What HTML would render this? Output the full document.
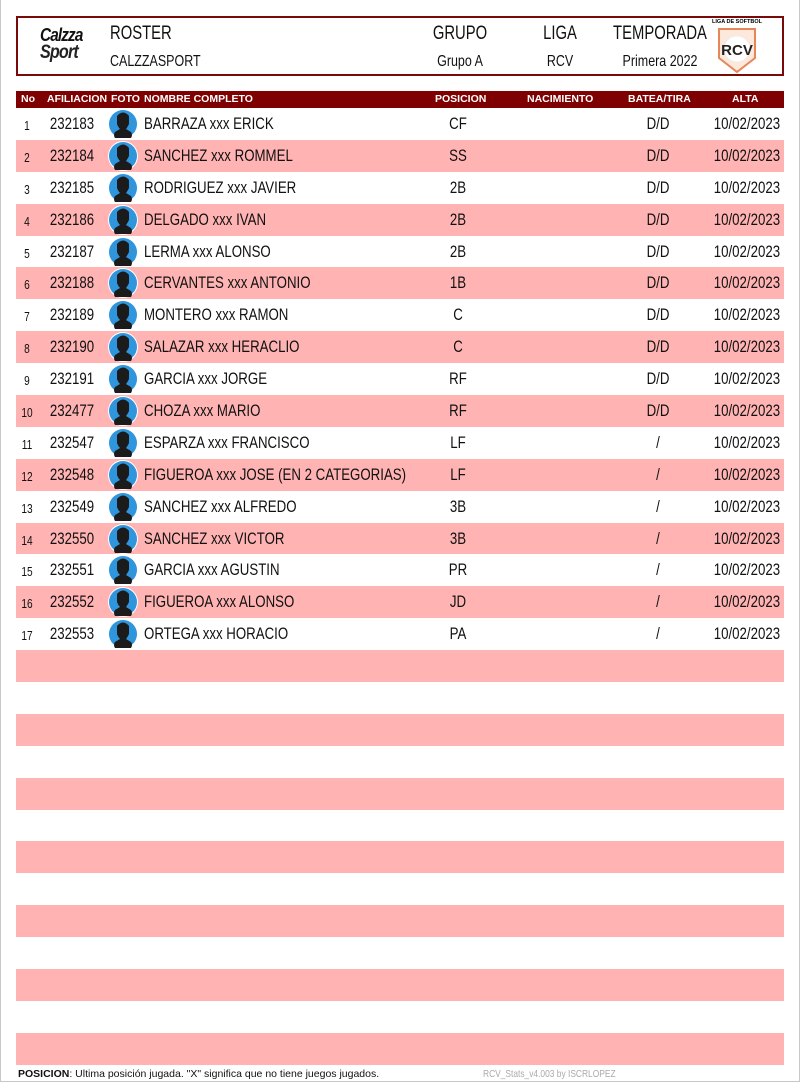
<!DOCTYPE html>
<html><head><meta charset="utf-8"><style>
*{margin:0;padding:0;box-sizing:border-box}
body{width:800px;height:1082px;background:#fff;position:relative;overflow:hidden;font-family:"Liberation Sans",sans-serif;color:#111}
.frame{position:absolute;left:0;top:0;width:800px;height:1082px;border:1px solid #c8c8c8;border-top:none}
.hdr{position:absolute;left:16px;top:16px;width:768px;height:60px;border:2px solid #7a0a0a}
.t{position:absolute;white-space:nowrap;font-size:17px;line-height:20px}
.c{transform:translateX(-50%) scaleX(.78)}
.l{transform-origin:left center;transform:scaleX(.78)}
.r{transform-origin:right center;transform:scaleX(.78)}
.th{position:absolute;left:16px;top:91px;width:768px;height:17px;background:#7f0000}
.th span{position:absolute;top:2px;color:#fff;font-size:10.5px;font-weight:bold;white-space:nowrap;line-height:13px}
.rows{position:absolute;left:16px;top:108px;width:768px}
.row{position:relative;height:31.9px;width:768px}
.row:nth-child(even){background:#ffb3b3}
.row .t{top:6px}
.row .n{font-size:13px;top:8px}
.ic{position:absolute;left:92px;top:1px;width:30px;height:30px}
</style></head><body>
<div class="frame"></div>
<div class="hdr">
 <div style="position:absolute;left:22px;top:9px;font-weight:900;font-style:italic;font-size:18px;line-height:17px;letter-spacing:-1px;color:#111;transform:scaleX(.85);transform-origin:left">Calzza<br><span style="color:#222;font-size:19px">Sport</span></div>
 <div class="t l" style="left:92px;top:6px;font-size:19px">ROSTER</div>
 <div class="t l" style="left:92px;top:34px;font-size:16px">CALZZASPORT</div>
 <div class="t c" style="left:442px;top:6px;font-size:19px">GRUPO</div>
 <div class="t c" style="left:442px;top:34px;font-size:16px">Grupo A</div>
 <div class="t c" style="left:542px;top:6px;font-size:19px">LIGA</div>
 <div class="t c" style="left:542px;top:34px;font-size:16px">RCV</div>
 <div class="t c" style="left:642px;top:6px;font-size:19px">TEMPORADA</div>
 <div class="t c" style="left:642px;top:34px;font-size:16px">Primera 2022</div>
 <svg style="position:absolute;left:694px;top:-2px" width="50" height="58" viewBox="0 0 50 58">
  <text x="25" y="7" font-size="5.5" font-family="Liberation Sans" font-weight="bold" text-anchor="middle">LIGA DE SOFTBOL</text>
  <path d="M7 13 L43 13 L43 42 L25 56 L7 42 Z" fill="#fde8dc" stroke="#e8865a" stroke-width="2"/>
  <circle cx="25" cy="33" r="13" fill="#fff" stroke="#eee"/>
  <text x="25" y="39" font-size="15" font-family="Liberation Sans" font-weight="bold" text-anchor="middle" fill="#222">RCV</text>
 </svg>
</div>
<div class="th">
 <span style="left:5px">No</span><span style="left:31px">AFILIACION</span><span style="left:95px">FOTO</span><span style="left:128px">NOMBRE COMPLETO</span>
 <span style="left:419px">POSICION</span><span style="left:511px">NACIMIENTO</span><span style="left:612px">BATEA/TIRA</span><span style="left:716px">ALTA</span>
</div>
<svg width="0" height="0" style="position:absolute"><defs><symbol id="p" viewBox="0 0 30 30"><circle cx="15" cy="15" r="15" fill="#fff"/><circle cx="15" cy="15" r="14" fill="#2f95dc"/><path d="M9 7 Q15 0 21 7 L21 15 Q19 19 18 20 L23 23 Q25 26 23 29 L7 29 Q5 26 7 23 L12 20 Q10 18 9 15 Z" fill="#1b1b1b"/></symbol></defs></svg>
<div class="rows">
<div class="row"><span class="t c n" style="left:11px">1</span><span class="t c" style="left:56px">232183</span><svg class="ic"><use href="#p"/></svg><span class="t l" style="left:128px">BARRAZA xxx ERICK</span><span class="t c" style="left:442px">CF</span><span class="t c" style="left:642px">D/D</span><span class="t r" style="right:4px">10/02/2023</span></div>
<div class="row"><span class="t c n" style="left:11px">2</span><span class="t c" style="left:56px">232184</span><svg class="ic"><use href="#p"/></svg><span class="t l" style="left:128px">SANCHEZ xxx ROMMEL</span><span class="t c" style="left:442px">SS</span><span class="t c" style="left:642px">D/D</span><span class="t r" style="right:4px">10/02/2023</span></div>
<div class="row"><span class="t c n" style="left:11px">3</span><span class="t c" style="left:56px">232185</span><svg class="ic"><use href="#p"/></svg><span class="t l" style="left:128px">RODRIGUEZ xxx JAVIER</span><span class="t c" style="left:442px">2B</span><span class="t c" style="left:642px">D/D</span><span class="t r" style="right:4px">10/02/2023</span></div>
<div class="row"><span class="t c n" style="left:11px">4</span><span class="t c" style="left:56px">232186</span><svg class="ic"><use href="#p"/></svg><span class="t l" style="left:128px">DELGADO xxx IVAN</span><span class="t c" style="left:442px">2B</span><span class="t c" style="left:642px">D/D</span><span class="t r" style="right:4px">10/02/2023</span></div>
<div class="row"><span class="t c n" style="left:11px">5</span><span class="t c" style="left:56px">232187</span><svg class="ic"><use href="#p"/></svg><span class="t l" style="left:128px">LERMA xxx ALONSO</span><span class="t c" style="left:442px">2B</span><span class="t c" style="left:642px">D/D</span><span class="t r" style="right:4px">10/02/2023</span></div>
<div class="row"><span class="t c n" style="left:11px">6</span><span class="t c" style="left:56px">232188</span><svg class="ic"><use href="#p"/></svg><span class="t l" style="left:128px">CERVANTES xxx ANTONIO</span><span class="t c" style="left:442px">1B</span><span class="t c" style="left:642px">D/D</span><span class="t r" style="right:4px">10/02/2023</span></div>
<div class="row"><span class="t c n" style="left:11px">7</span><span class="t c" style="left:56px">232189</span><svg class="ic"><use href="#p"/></svg><span class="t l" style="left:128px">MONTERO xxx RAMON</span><span class="t c" style="left:442px">C</span><span class="t c" style="left:642px">D/D</span><span class="t r" style="right:4px">10/02/2023</span></div>
<div class="row"><span class="t c n" style="left:11px">8</span><span class="t c" style="left:56px">232190</span><svg class="ic"><use href="#p"/></svg><span class="t l" style="left:128px">SALAZAR xxx HERACLIO</span><span class="t c" style="left:442px">C</span><span class="t c" style="left:642px">D/D</span><span class="t r" style="right:4px">10/02/2023</span></div>
<div class="row"><span class="t c n" style="left:11px">9</span><span class="t c" style="left:56px">232191</span><svg class="ic"><use href="#p"/></svg><span class="t l" style="left:128px">GARCIA xxx JORGE</span><span class="t c" style="left:442px">RF</span><span class="t c" style="left:642px">D/D</span><span class="t r" style="right:4px">10/02/2023</span></div>
<div class="row"><span class="t c n" style="left:11px">10</span><span class="t c" style="left:56px">232477</span><svg class="ic"><use href="#p"/></svg><span class="t l" style="left:128px">CHOZA xxx MARIO</span><span class="t c" style="left:442px">RF</span><span class="t c" style="left:642px">D/D</span><span class="t r" style="right:4px">10/02/2023</span></div>
<div class="row"><span class="t c n" style="left:11px">11</span><span class="t c" style="left:56px">232547</span><svg class="ic"><use href="#p"/></svg><span class="t l" style="left:128px">ESPARZA xxx FRANCISCO</span><span class="t c" style="left:442px">LF</span><span class="t c" style="left:642px">/</span><span class="t r" style="right:4px">10/02/2023</span></div>
<div class="row"><span class="t c n" style="left:11px">12</span><span class="t c" style="left:56px">232548</span><svg class="ic"><use href="#p"/></svg><span class="t l" style="left:128px">FIGUEROA xxx JOSE (EN 2 CATEGORIAS)</span><span class="t c" style="left:442px">LF</span><span class="t c" style="left:642px">/</span><span class="t r" style="right:4px">10/02/2023</span></div>
<div class="row"><span class="t c n" style="left:11px">13</span><span class="t c" style="left:56px">232549</span><svg class="ic"><use href="#p"/></svg><span class="t l" style="left:128px">SANCHEZ xxx ALFREDO</span><span class="t c" style="left:442px">3B</span><span class="t c" style="left:642px">/</span><span class="t r" style="right:4px">10/02/2023</span></div>
<div class="row"><span class="t c n" style="left:11px">14</span><span class="t c" style="left:56px">232550</span><svg class="ic"><use href="#p"/></svg><span class="t l" style="left:128px">SANCHEZ xxx VICTOR</span><span class="t c" style="left:442px">3B</span><span class="t c" style="left:642px">/</span><span class="t r" style="right:4px">10/02/2023</span></div>
<div class="row"><span class="t c n" style="left:11px">15</span><span class="t c" style="left:56px">232551</span><svg class="ic"><use href="#p"/></svg><span class="t l" style="left:128px">GARCIA xxx AGUSTIN</span><span class="t c" style="left:442px">PR</span><span class="t c" style="left:642px">/</span><span class="t r" style="right:4px">10/02/2023</span></div>
<div class="row"><span class="t c n" style="left:11px">16</span><span class="t c" style="left:56px">232552</span><svg class="ic"><use href="#p"/></svg><span class="t l" style="left:128px">FIGUEROA xxx ALONSO</span><span class="t c" style="left:442px">JD</span><span class="t c" style="left:642px">/</span><span class="t r" style="right:4px">10/02/2023</span></div>
<div class="row"><span class="t c n" style="left:11px">17</span><span class="t c" style="left:56px">232553</span><svg class="ic"><use href="#p"/></svg><span class="t l" style="left:128px">ORTEGA xxx HORACIO</span><span class="t c" style="left:442px">PA</span><span class="t c" style="left:642px">/</span><span class="t r" style="right:4px">10/02/2023</span></div>
<div class="row"></div><div class="row"></div><div class="row"></div><div class="row"></div><div class="row"></div>
<div class="row"></div><div class="row"></div><div class="row"></div><div class="row"></div><div class="row"></div>
<div class="row"></div><div class="row"></div><div class="row"></div>
</div>
<div style="position:absolute;left:18px;top:1068px;font-size:10.5px;white-space:nowrap"><b>POSICION</b>: Ultima posición jugada. "X" significa que no tiene juegos jugados.</div>
<div style="position:absolute;left:483px;top:1068px;font-size:10.5px;color:#aaa;white-space:nowrap;transform:scaleX(.8);transform-origin:left">RCV_Stats_v4.003 by ISCRLOPEZ</div>
</body></html>
